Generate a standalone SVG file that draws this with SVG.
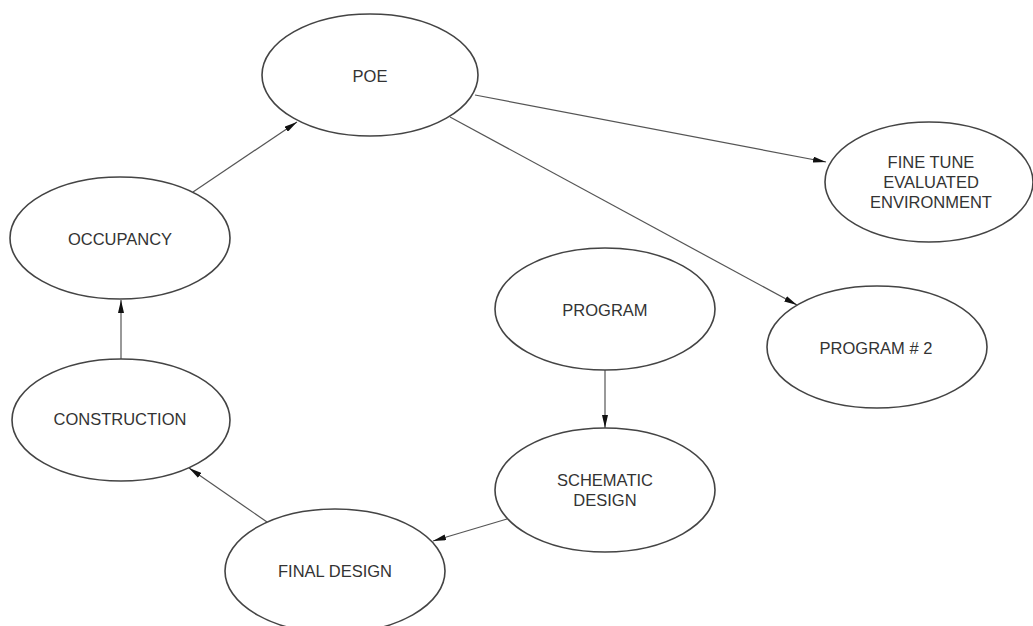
<svg xmlns="http://www.w3.org/2000/svg" width="1033" height="626" viewBox="0 0 1033 626">
<style>
.node ellipse{fill:#fff;stroke:#444;stroke-width:1.6}
.node text{font-family:"Liberation Sans",Arial,Helvetica,sans-serif;font-size:16.5px;fill:#333;text-anchor:middle}
.edge{stroke:#555;stroke-width:1.2;fill:none;marker-end:url(#arr)}
</style>
<defs>
<marker id="arr" markerUnits="userSpaceOnUse" markerWidth="13" markerHeight="6" refX="13" refY="3" orient="auto">
<path d="M0,0 L13,3 L0,6 Z" fill="#111"/>
</marker>
</defs>
<rect width="1033" height="626" fill="#fff"/>
<g id="connectors">
<line class="edge" x1="193" y1="192" x2="297" y2="122"/>
<line class="edge" x1="121" y1="359" x2="121" y2="300"/>
<line class="edge" x1="475" y1="95" x2="826" y2="162"/>
<line class="edge" x1="450" y1="117" x2="797" y2="305"/>
<line class="edge" x1="605" y1="370" x2="605" y2="428"/>
<line class="edge" x1="507" y1="519" x2="433" y2="541"/>
<line class="edge" x1="267" y1="522" x2="189" y2="468"/>
</g>
<g id="poe" class="node"><ellipse cx="370" cy="75" rx="108" ry="61"/><text x="370" y="82">POE</text></g>
<g id="fine-tune" class="node"><ellipse cx="929" cy="182" rx="104" ry="60"/><text x="931" y="168">FINE TUNE</text><text x="931" y="188">EVALUATED</text><text x="931" y="208">ENVIRONMENT</text></g>
<g id="occupancy" class="node"><ellipse cx="120" cy="238" rx="110" ry="61"/><text x="120" y="245">OCCUPANCY</text></g>
<g id="program" class="node"><ellipse cx="605" cy="309" rx="110" ry="61"/><text x="605" y="316">PROGRAM</text></g>
<g id="program2" class="node"><ellipse cx="877" cy="347" rx="110" ry="61"/><text x="876" y="354">PROGRAM # 2</text></g>
<g id="construction" class="node"><ellipse cx="121" cy="420" rx="109" ry="61"/><text x="120" y="425">CONSTRUCTION</text></g>
<g id="schematic-design" class="node"><ellipse cx="605" cy="490" rx="110" ry="62"/><text x="605" y="486">SCHEMATIC</text><text x="605" y="506">DESIGN</text></g>
<g id="final-design" class="node"><ellipse cx="335" cy="571" rx="110" ry="62"/><text x="335" y="577">FINAL DESIGN</text></g>
</svg>
